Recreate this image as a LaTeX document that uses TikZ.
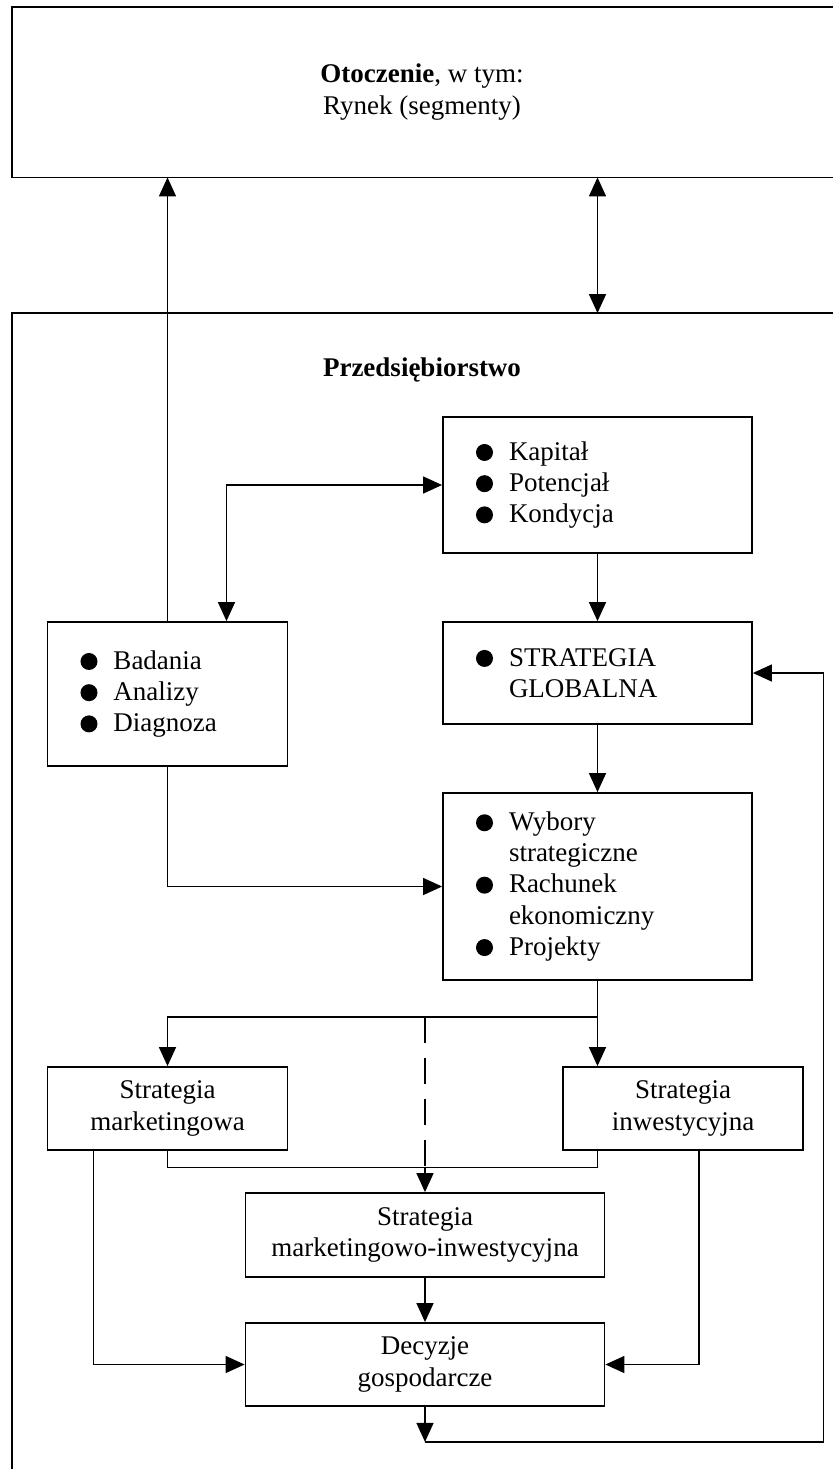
\documentclass[tikz,border=0pt]{standalone}
\usepackage{fontspec}
\setmainfont{Liberation Serif}
\usetikzlibrary{arrows.meta,calc}
\newcommand\bul{\makebox[16.5pt][l]{\tikz[baseline={(0,-3.9pt)}]\fill (0,0) circle (4.25pt);}}
\newcommand\ind{\hspace*{16.5pt}}
\begin{document}
\begin{tikzpicture}[x=0.5pt,y=-0.5pt,font=\fontsize{13.5}{15.6}\selectfont,
  frame/.style={line width=0.9pt},
  bbox/.style 2 args={draw,line width=0.9pt,inner xsep=16.5pt,inner ysep=0pt,align=left,text width=#1,minimum height=#2*0.5pt},
  cbox/.style 2 args={draw,line width=0.9pt,inner sep=0pt,align=center,minimum width=#1*0.5pt,minimum height=#2*0.5pt},
  sz/.style 2 args={inner sep=0pt,minimum width=#1*0.5pt,minimum height=#2*0.5pt},
  conn/.style={line width=0.7pt},
  arr/.style={conn,-{Triangle[length=9.5pt,width=8.5pt]}},
  darr/.style={conn,{Triangle[length=9.5pt,width=8.5pt]}-{Triangle[length=9.5pt,width=8.5pt]}}]
\useasboundingbox (0,0) rectangle (833,1469);
\clip (0,0) rectangle (833,1469);
\fill[white] (0,0) rectangle (833,1469);

% Environment
\node[sz={820}{170},align=center] (env) at (422,92) {\textbf{Otoczenie}, w tym:\\Rynek (segmenty)};
\draw[frame] ([xshift=20pt]env.north east) -- (env.north west) -- (env.south west) -- ([xshift=20pt]env.south east);

% Enterprise
\node[sz={820}{1155.5}] (ent) at (422,891.25) {};
\draw[frame] ([xshift=20pt]ent.north east) -- (ent.north west) -- ([yshift=-20pt]ent.south west);
\node (title) at (422,370) {\textbf{Przedsiębiorstwo}};

% Boxes
\node[bbox={121.5pt}{136}] (kap) at (597.5,485) {\bul Kapitał\\\bul Potencjał\\\bul Kondycja};
\node[bbox={121.5pt}{102}] (glob) at (597.5,673) {\bul STRATEGIA\\\ind GLOBALNA};
\node[bbox={121.5pt}{187}] (wyb) at (597.5,886.5) {\bul Wybory\\\ind strategiczne\\\bul Rachunek\\\ind ekonomiczny\\\bul Projekty};
\node[bbox={87pt}{144}] (bad) at (167.5,694) {\bul Badania\\\bul Analizy\\\bul Diagnoza};
\node[cbox={240}{83}] (mkt) at (167.5,1108.5) {Strategia\\marketingowa};
\node[cbox={240}{83}] (inw) at (683,1108.5) {Strategia\\inwestycyjna};
\node[cbox={359}{84}] (mi) at (425,1235) {Strategia\\marketingowo-inwestycyjna};
\node[cbox={359}{83}] (dec) at (425,1364.5) {Decyzje\\gospodarcze};

% Connectors
\draw[arr] (bad.north) -- (bad.north |- env.south);
\draw[darr] (env.south -| kap.north) -- (ent.north -| kap.north);
\draw[darr] ([xshift=29.5pt]bad.north) |- (kap.west);
\draw[arr] (kap.south) -- (glob.north);
\draw[arr] (glob.south) -- (wyb.north);
\draw[arr] (bad.south) |- (wyb.west);
\path (wyb.south) ++(0,36) coordinate (br);
\draw[arr] (wyb.south) -- (br) -| (mkt.north);
\draw[arr] (br) -- (br |- inw.north);
\path (mkt.south) ++(0,16.5) coordinate (mj);
\draw[conn] (mkt.south) -- (mj) -- (mj -| br) -- (br |- inw.south);
\draw[conn,dash pattern=on 13pt off 7.5pt] (br -| mi.north) -- (mj -| mi.north);
\draw[arr] (mj -| mi.north) -- (mi.north);
\draw[arr] (mi.south) -- (dec.north);
\draw[arr] ([xshift=-37pt]mkt.south) |- (dec.west);
\draw[arr] ([xshift=8pt]inw.south) |- (dec.east);
\draw[arr] (dec.south) -- ++(0,35) coordinate (lp);
\draw[arr] (lp) -- ++(398.5,0) |- (glob.east);
\end{tikzpicture}
\end{document}
